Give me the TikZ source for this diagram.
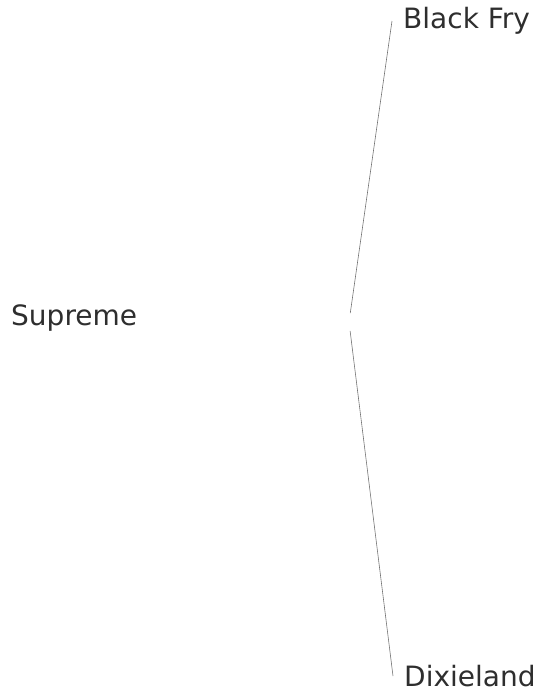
\documentclass[tikz,border=0pt]{standalone}
\usepackage{fontspec}
\setmainfont{DejaVu Sans}
\usetikzlibrary{calc}

\begin{document}
\begin{tikzpicture}[x=1pt,y=-1pt,font=\fontsize{28}{33}\selectfont,
  leaf/.style={anchor=west,inner xsep=11pt,inner ysep=0pt,text=black!82},
  root/.style={anchor=base west,inner sep=0pt,text=black!82},
  branch/.style={draw=black!55,line width=.6pt,shorten <=9pt}]
 \useasboundingbox (0,0) rectangle (541,694);
  \node[root] (sup) at (11,325) {Supreme};
  \coordinate (fork) at (349,322);
  \node[leaf] (bf) at (392,21) {Black Fry};
  \node[leaf] (dx) at (393,676) {Dixieland};
  \draw[branch] (fork)--(bf.west);
  \draw[branch] (fork)--(dx.west);
\end{tikzpicture}
\end{document}
